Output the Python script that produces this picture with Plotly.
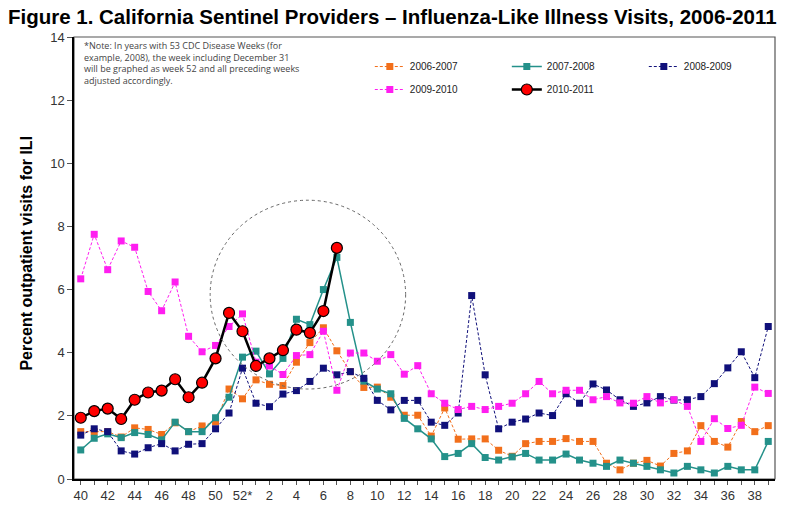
import plotly.graph_objects as go

# weeks 40..52 then 1..39 (52 weeks per season)
weeks = list(range(40, 53)) + list(range(1, 40))
tick_text = [("52*" if w == 52 else str(w)) if i % 2 == 0 else "" for i, w in enumerate(weeks)]

s0607 = [1.5, 1.5, 1.5, 1.33, 1.62, 1.57, 1.41, 1.78, 1.5, 1.68, 1.81, 2.85, 2.54,
         3.14, 3.0, 2.96, 3.7, 4.32, 4.79, 4.06, 3.4, 2.9, 2.91, 2.59, 2.02, 2.02,
         1.36, 2.25, 1.26, 1.27, 1.27, 0.91, 0.72, 1.12, 1.19, 1.19, 1.28, 1.19, 1.19,
         0.5, 0.29, 0.5, 0.59, 0.41, 0.81, 0.89, 1.69, 1.19, 1.01, 1.82, 1.5, 1.69]
s0708 = [0.92, 1.29, 1.43, 1.31, 1.47, 1.41, 1.24, 1.8, 1.5, 1.5, 1.94, 2.59, 3.86,
         4.05, 3.33, 3.82, 5.06, 4.89, 6.0, 7.02, 4.96, 3.1, 2.85, 2.7, 1.92, 1.59,
         1.27, 0.71, 0.81, 1.12, 0.68, 0.6, 0.7, 0.81, 0.6, 0.6, 0.79, 0.6, 0.5,
         0.4, 0.6, 0.5, 0.4, 0.29, 0.19, 0.4, 0.29, 0.19, 0.4, 0.29, 0.29, 1.19]
s0809 = [1.39, 1.59, 1.5, 0.89, 0.79, 0.99, 1.12, 0.89, 1.1, 1.12, 1.59, 2.09, 3.51,
         2.4, 2.29, 2.69, 2.8, 3.09, 3.51, 3.3, 3.4, 3.19, 2.49, 2.19, 2.49, 2.49,
         1.8, 1.7, 2.09, 5.81, 3.3, 1.59, 1.8, 1.9, 2.09, 2.01, 2.7, 2.4, 3.01,
         2.82, 2.51, 2.3, 2.41, 2.61, 2.5, 2.51, 2.61, 3.02, 3.52, 4.03, 3.21, 4.83]
s0910 = [6.34, 7.75, 6.63, 7.54, 7.34, 5.94, 5.33, 6.24, 4.52, 4.03, 4.23, 4.83, 5.23,
         3.7, 3.58, 3.31, 3.91, 3.94, 4.68, 2.81, 3.99, 3.99, 3.73, 3.94, 3.32, 3.59,
         2.7, 2.4, 2.2, 2.3, 2.2, 2.3, 2.4, 2.7, 3.09, 2.7, 2.81, 2.81, 2.51,
         2.61, 2.41, 2.4, 2.61, 2.41, 2.51, 2.3, 1.19, 1.91, 1.6, 1.7, 2.91, 2.71]
s1011 = [1.94, 2.15, 2.23, 1.9, 2.51, 2.74, 2.8, 3.16, 2.59, 3.05, 3.82, 5.26, 4.68,
         3.58, 3.82, 4.08, 4.73, 4.63, 5.32, 7.32]

idx = list(range(len(weeks)))
font = "Liberation Sans, Arial, sans-serif"

fig = go.Figure()
dash = "3px,2px"
fig.add_trace(go.Scatter(x=idx, y=s0607, name="2006-2007", mode="lines+markers",
                         line=dict(color="#F26F1B", width=1, dash=dash),
                         marker=dict(symbol="square", size=7, color="#F26F1B"), legend="legend"))
fig.add_trace(go.Scatter(x=idx, y=s0708, name="2007-2008", mode="lines+markers",
                         line=dict(color="#24918A", width=1.5),
                         marker=dict(symbol="square", size=7, color="#24918A"), legend="legend"))
fig.add_trace(go.Scatter(x=idx, y=s0809, name="2008-2009", mode="lines+markers",
                         line=dict(color="#10107A", width=1, dash=dash),
                         marker=dict(symbol="square", size=7, color="#10107A"), legend="legend"))
fig.add_trace(go.Scatter(x=idx, y=s0910, name="2009-2010", mode="lines+markers",
                         line=dict(color="#FF1EF0", width=1, dash=dash),
                         marker=dict(symbol="square", size=7, color="#FF1EF0"), legend="legend2"))
fig.add_trace(go.Scatter(x=idx[:len(s1011)], y=s1011, name="2010-2011", mode="lines+markers",
                         line=dict(color="black", width=2.5),
                         marker=dict(symbol="circle", size=11, color="#FF0000",
                                     line=dict(color="black", width=1.2)), legend="legend2"))

# dotted circle around the current peak
fig.add_shape(type="circle", xref="x", yref="y", x0=9.6, x1=24.1, y0=2.85, y1=8.83,
              line=dict(color="#666666", width=1, dash="dot"))

legend_style = dict(orientation="h", xanchor="left", yanchor="top", font=dict(family=font, size=10, color="#222"),
                    bgcolor="rgba(0,0,0,0)", entrywidth=92, entrywidthmode="pixels", itemwidth=30,
                    tracegroupgap=0)

fig.update_layout(
    width=794, height=515,
    margin=dict(l=74, r=19, t=37, b=34),
    paper_bgcolor="white", plot_bgcolor="white",
    showlegend=True,
    legend=dict(x=0.422, y=0.966, **legend_style),
    legend2=dict(x=0.422, y=0.914, **legend_style),
    title=dict(text="<b>Figure 1. California Sentinel Providers – Influenza-Like Illness Visits, 2006-2011</b>",
               x=0.01, xanchor="left", y=0.968, yanchor="middle",
               font=dict(family=font, size=20.5, color="black")),
    font=dict(family=font),
)

fig.update_xaxes(range=[-0.5, 51.5], tickmode="array", tickvals=idx, ticktext=tick_text,
                 ticks="outside", ticklen=4, tickcolor="#555", showgrid=False, zeroline=False,
                 showline=True, linecolor="black", linewidth=1.5, mirror=False,
                 tickfont=dict(family=font, size=13, color="#333"))
fig.update_yaxes(range=[0, 14], dtick=2, ticks="outside", ticklen=5, tickcolor="#555",
                 showgrid=False, zeroline=False, showline=True, linecolor="black", linewidth=1.5,
                 tickfont=dict(family=font, size=13, color="#333"))

# top and right frame
fig.add_shape(type="rect", xref="paper", yref="paper", x0=0, x1=1, y0=0, y1=1,
              line=dict(color="#555555", width=1.2), layer="below")

fig.add_annotation(text="<b>Percent outpatient visits for ILI</b>", xref="paper", yref="paper",
                   x=-0.067, y=0.51, xanchor="center", yanchor="middle", textangle=-90, showarrow=False,
                   font=dict(family=font, size=16, color="black"))

fig.add_annotation(text="*Note: In years with 53 CDC Disease Weeks (for<br>example, 2008), the week including December 31<br>"
                        "will be graphed as week 52 and all preceding weeks<br>adjusted accordingly.",
                   xref="paper", yref="paper", x=0.012, y=1.0, xanchor="left", yanchor="top",
                   align="left", showarrow=False,
                   font=dict(family="Open Sans, sans-serif", size=9, color="#444"))

# drop the default 8px page margin so the figure sits at the window corner
fig.write_html("out.html", config={"displayModeBar": False},
               post_script="document.body.style.margin='0px';")
